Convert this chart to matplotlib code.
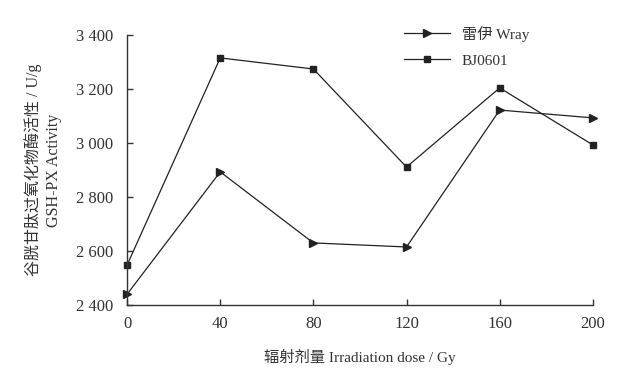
import matplotlib.pyplot as plt
from matplotlib.ticker import FuncFormatter

# data
dose = [0, 40, 80, 120, 160, 200]
wray = [2440, 2893, 2630, 2615, 3122, 3093]
bj0601 = [2548, 3315, 3274, 2911, 3204, 2993]
yticks = [2400, 2600, 2800, 3000, 3200, 3400]

fonts = ['Liberation Serif', 'Noto Sans CJK SC']
plt.rcParams['font.family'] = fonts

fig = plt.figure(figsize=(6.26, 3.72), dpi=100)
ax = fig.add_axes([0.203, 0.18, 0.744, 0.726])

ax.plot(dose, wray, color='#222222', lw=0.9, marker='>', ms=6,
        label='雷伊 Wray', clip_on=False)
ax.plot(dose, bj0601, color='#222222', lw=0.9, marker='s', ms=5,
        label='BJ0601', clip_on=False)

ax.set_xlim(0, 200)
ax.set_ylim(2400, 3400)
ax.set_xticks(dose)
ax.set_yticks(yticks)
ax.yaxis.set_major_formatter(FuncFormatter(lambda v, p: f"{int(v):,}".replace(',', ' ')))
for s in ['top', 'right']:
    ax.spines[s].set_visible(False)
for s in ['left', 'bottom']:
    ax.spines[s].set_color('#333333')
    ax.spines[s].set_linewidth(1.0)
ax.tick_params(direction='in', length=4, width=1, colors='#333333',
               labelsize=12, labelcolor='#333333')
ax.tick_params(axis='x', pad=8)
ax.tick_params(axis='y', pad=10)

ax.set_xlabel('辐射剂量 Irradiation dose / Gy', fontsize=11, color='#333333',
              family=fonts, labelpad=12)
ax.set_ylabel('谷胱甘肽过氧化物酶活性 / U/g\nGSH-PX Activity', fontsize=11.5,
              color='#333333', family=fonts, labelpad=10, linespacing=1.3)

leg = ax.legend(loc='upper left', bbox_to_anchor=(0.565, 1.085), frameon=False,
                handlelength=3, labelspacing=0.8,
                prop={'family': fonts, 'size': 11})
for t in leg.get_texts():
    t.set_color('#333333')

fig.savefig('out.png', dpi=100)
